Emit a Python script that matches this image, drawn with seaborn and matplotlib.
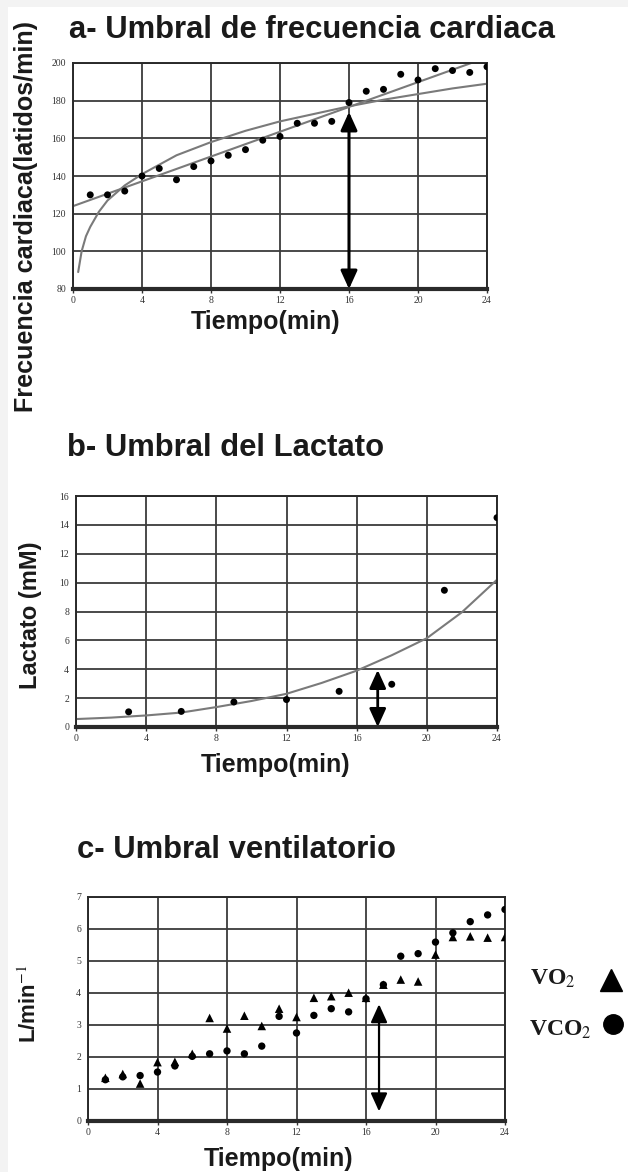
import matplotlib
matplotlib.use("Agg")
import numpy as np
import matplotlib.pyplot as plt
import seaborn as sns
from matplotlib.patches import Rectangle

# a - heart rate threshold
hr_time = list(range(1, 25))
hr_bpm = [130, 130, 132, 140, 144, 138, 145, 148, 151, 154, 159, 161,
          168, 168, 169, 179, 185, 186, 194, 191, 197, 196, 195, 198]
hr_line_time = [0, 24]
hr_line_bpm = [124, 203]
hr_curve_time = [0.3, 0.5, 0.75, 1, 1.5, 2, 3, 4, 6, 8, 10, 12, 14, 16, 18, 20, 22, 24]
hr_curve_bpm = [89, 100, 108, 113, 121, 127, 135, 141, 151, 158, 164, 169,
                173, 177, 180.5, 183.5, 186.5, 189]
hr_arrow = (16, 174, 80)

# b - lactate threshold
lac_time = [3, 6, 9, 12, 15, 18, 21, 24]
lac_mm = [1.05, 1.08, 1.73, 1.9, 2.47, 2.96, 9.47, 14.5]
lac_curve_time = [0, 2, 4, 6, 8, 10, 12, 14, 16, 18, 20, 22, 24]
lac_curve_mm = [0.55, 0.65, 0.8, 1.0, 1.38, 1.8, 2.3, 3.05, 3.9, 4.97, 6.15, 7.95, 10.2]
lac_arrow = (17.2, 3.95, 0)

# c - ventilatory threshold
vent_time = list(range(1, 25))
vo2 = [1.35, 1.47, 1.17, 1.84, 1.85, 2.1, 3.22, 2.89, 3.29, 2.97, 3.51, 3.25,
       3.85, 3.9, 4.01, 3.85, 4.26, 4.42, 4.36, 5.2, 5.75, 5.77, 5.73, 5.75]
vco2 = [1.29, 1.38, 1.42, 1.53, 1.72, 2.02, 2.1, 2.19, 2.1, 2.34, 3.27, 2.75,
        3.3, 3.51, 3.41, 3.82, 4.26, 5.15, 5.23, 5.59, 5.88, 6.23, 6.44, 6.61]
vent_arrow = (16.75, 3.65, 0.3)

W, H = 628, 1172
sns.set_style("white")
plt.rcParams["font.family"] = ["Liberation Sans", "DejaVu Sans"]
plt.rcParams["mathtext.fontset"] = "stix"

fig = plt.figure(figsize=(W / 100, H / 100), dpi=100, facecolor="#f3f3f3")
fig.add_artist(Rectangle((8 / W, 0), 1 - 8 / W, 1 - 7 / H, transform=fig.transFigure,
                         facecolor="white", edgecolor="none", zorder=-10))


def px_axes(left, top, right, bottom):
    return fig.add_axes([left / W, 1 - bottom / H, (right - left) / W, (bottom - top) / H])


def style(ax, ymin, ymax, ystep):
    ax.set_facecolor("white")
    ax.set_xlim(0, 24)
    ax.set_ylim(ymin, ymax)
    ax.set_xticks(range(0, 25, 4))
    ax.set_yticks(np.arange(ymin, ymax + 0.01, ystep))
    ax.grid(True, color="#3c3c3c", lw=1.3)
    ax.set_axisbelow(True)
    for s in ax.spines.values():
        s.set_visible(True)
        s.set_color("#2a2a2a")
        s.set_linewidth(1.4)
    ax.spines["bottom"].set_linewidth(3)
    ax.tick_params(axis="x", length=3, width=1, pad=2, labelsize=7, colors="#333333", direction="out", bottom=True)
    ax.tick_params(axis="y", length=0, pad=5, labelsize=7, colors="#333333")
    for lab in ax.get_xticklabels() + ax.get_yticklabels():
        lab.set_family("Liberation Serif")
    ax.set_xlabel("")
    ax.set_ylabel("")


def arrow(ax, a, lw):
    x, top, bot = a
    ax.annotate("", xy=(x, top), xytext=(x, bot),
                arrowprops=dict(arrowstyle="<|-|>,head_length=1.1,head_width=0.5",
                                color="black", lw=lw, shrinkA=0, shrinkB=0,
                                mutation_scale=10), annotation_clip=False)


title_kw = dict(fontsize=22.3, fontweight="bold", color="#1a1a1a")
lab_kw = dict(fontsize=18, fontweight="bold", color="#1a1a1a")

# panel a
ax_a = px_axes(73, 63, 487, 289)
sns.lineplot(x=hr_line_time, y=hr_line_bpm, ax=ax_a, color="#7a7a7a", lw=1.5)
sns.lineplot(x=hr_curve_time, y=hr_curve_bpm, ax=ax_a, color="#7a7a7a", lw=1.5)
sns.scatterplot(x=hr_time, y=hr_bpm, ax=ax_a, color="black", s=25, edgecolor="none", zorder=3)
style(ax_a, 80, 200, 20)
arrow(ax_a, hr_arrow, 2.2)
fig.text(69 / W, 1 - 30 / H, "a- Umbral de frecuencia cardiaca", ha="left", va="center", **title_kw)
fig.text(26 / W, 1 - 216 / H, "Frecuencia cardiaca(latidos/min)", rotation=90, ha="center", va="center",
         fontsize=18.1, fontweight="bold", color="#1a1a1a")
fig.text(266 / W, 1 - 322 / H, "Tiempo(min)", ha="center", va="center", **lab_kw)

# panel b
ax_b = px_axes(76, 496, 497, 727)
sns.lineplot(x=lac_curve_time, y=lac_curve_mm, ax=ax_b, color="#7a7a7a", lw=1.5)
sns.scatterplot(x=lac_time, y=lac_mm, ax=ax_b, color="black", s=25, edgecolor="none", zorder=3)
style(ax_b, 0, 16, 2)
arrow(ax_b, lac_arrow, 2.0)
fig.text(67 / W, 1 - 448 / H, "b- Umbral del Lactato", ha="left", va="center", **title_kw)
fig.text(30 / W, 1 - 615 / H, "Lactato (mM)", rotation=90, ha="center", va="center",
         fontsize=17, fontweight="bold", color="#1a1a1a")
fig.text(276 / W, 1 - 765 / H, "Tiempo(min)", ha="center", va="center", **lab_kw)

# panel c
ax_c = px_axes(88, 897, 505, 1121)
sns.scatterplot(x=vent_time, y=vo2, ax=ax_c, color="black", marker="^", s=38, edgecolor="none", zorder=3)
sns.scatterplot(x=vent_time, y=vco2, ax=ax_c, color="black", marker="o", s=28, edgecolor="none", zorder=3)
style(ax_c, 0, 7, 1)
arrow(ax_c, vent_arrow, 1.6)
fig.text(77 / W, 1 - 850 / H, "c- Umbral ventilatorio", ha="left", va="center", **title_kw)
fig.text(30 / W, 1 - 1004 / H, "L/min$^{-1}$", rotation=90, ha="center", va="center",
         fontsize=16, fontweight="bold", color="#1a1a1a")
fig.text(279 / W, 1 - 1159 / H, "Tiempo(min)", ha="center", va="center", **lab_kw)

# legend for panel c
leg_kw = dict(fontsize=17, family="Liberation Serif", fontweight="bold", color="#1a1a1a", ha="left", va="center")
fig.text(530 / W, 1 - 979 / H, "VO$_2$", **leg_kw)
fig.text(529 / W, 1 - 1030 / H, "VCO$_2$", **leg_kw)
fig.add_artist(plt.Line2D([611 / W], [1 - 980 / H], marker="^", markersize=16, color="black",
                          transform=fig.transFigure))
fig.add_artist(plt.Line2D([613 / W], [1 - 1024 / H], marker="o", markersize=14, color="black",
                          transform=fig.transFigure))

fig.savefig("out.png", dpi=100, facecolor=fig.get_facecolor())
